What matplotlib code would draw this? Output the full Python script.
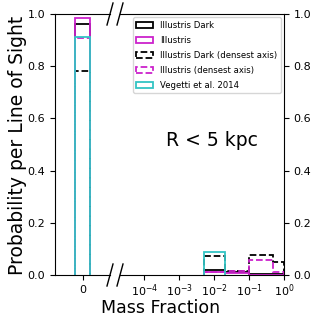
import matplotlib
matplotlib.use("Agg")
import matplotlib.pyplot as plt
from matplotlib.patches import Patch
import numpy as np

# data
bin_edges = [0.005, 0.02, 0.1, 0.5, 1.0]
zero_edges = [-0.5, 0.5]
labels = ["Illustris Dark", "Illustris", "Illustris Dark (densest axis)",
          "Illustris (densest axis)", "Vegetti et al. 2014"]
zero_vals = [0.962, 0.983, 0.78, 0.907, 0.91]
right_vals = [
    [0.019, 0.012, 0.004, 0.002],
    [0.010, 0.006, 0.001, 0.0],
    [0.073, 0.017, 0.078, 0.049],
    [0.012, 0.014, 0.056, 0.010],
    [0.09, 0.0, 0.0, 0.0],
]
colors = ["black", "#CC22CC", "black", "#CC22CC", "#33C4C4"]
styles = ["-", "-", "--", "--", "-"]
yticks = [0.0, 0.2, 0.4, 0.6, 0.8, 1.0]

fig = plt.figure(figsize=(3.19, 3.19), dpi=100)
axL = fig.add_axes([55/319, 1-275/319, 55/319, 261/319])
axR = fig.add_axes([120/319, 1-275/319, 164/319, 261/319])

for i in range(5):
    axL.stairs([zero_vals[i]], zero_edges, color=colors[i], linestyle=styles[i], lw=1.3)
    if i == 4:
        axR.stairs(right_vals[i][:1], bin_edges[:2], color=colors[i], linestyle=styles[i],
                   lw=1.3)
    else:
        axR.stairs(right_vals[i], bin_edges, color=colors[i], linestyle=styles[i],
                   lw=1.3)

axL.set_xlim(-1.83, 1.83)
axL.set_ylim(0, 1)
axL.set_xticks([0])
axL.set_xticklabels(["0"])
axL.set_yticks(yticks)
axL.spines["right"].set_visible(False)
axL.tick_params(labelsize=8)

axR.set_xscale("log")
axR.set_xlim(2e-5, 1)
axR.set_ylim(0, 1)
axR.set_xticks([1e-4, 1e-3, 1e-2, 1e-1, 1e0])
axR.spines["left"].set_visible(False)
axR.yaxis.tick_right()
axR.set_yticks(yticks)
axR.tick_params(labelsize=8)
axR.tick_params(axis="x", which="major", pad=2)
axR.tick_params(axis="y", which="both", left=False)

handles = [Patch(facecolor="none", edgecolor=colors[i], linestyle=styles[i], lw=1.3)
           for i in range(5)]
axR.legend(handles, labels, loc="upper right", fontsize=6.1, frameon=True,
           handlelength=2.0, labelspacing=0.7, borderaxespad=0.4)
axR.text(0.56, 0.517, "R < 5 kpc", transform=axR.transAxes, fontsize=13.5,
         ha="center", va="center")

# break marks
dx = 3 / 319
dy = 11 / 319
for y in (0, 1):
    yf = 1 - 275/319 + y * 261/319
    fig.add_artist(plt.Line2D([110/319 - dx, 110/319 + dx], [yf - dy, yf + dy],
                              color="k", lw=1))
    fig.add_artist(plt.Line2D([120/319 - dx, 120/319 + dx], [yf - dy, yf + dy],
                              color="k", lw=1))

fig.text(161/319, 1-313/319, "Mass Fraction", ha="center", va="baseline", fontsize=12.5)
fig.text(18/319, 1-145/319, "Probability per Line of Sight", ha="center", va="center",
         rotation=90, fontsize=13.5)

fig.savefig("out.png", dpi=100)
